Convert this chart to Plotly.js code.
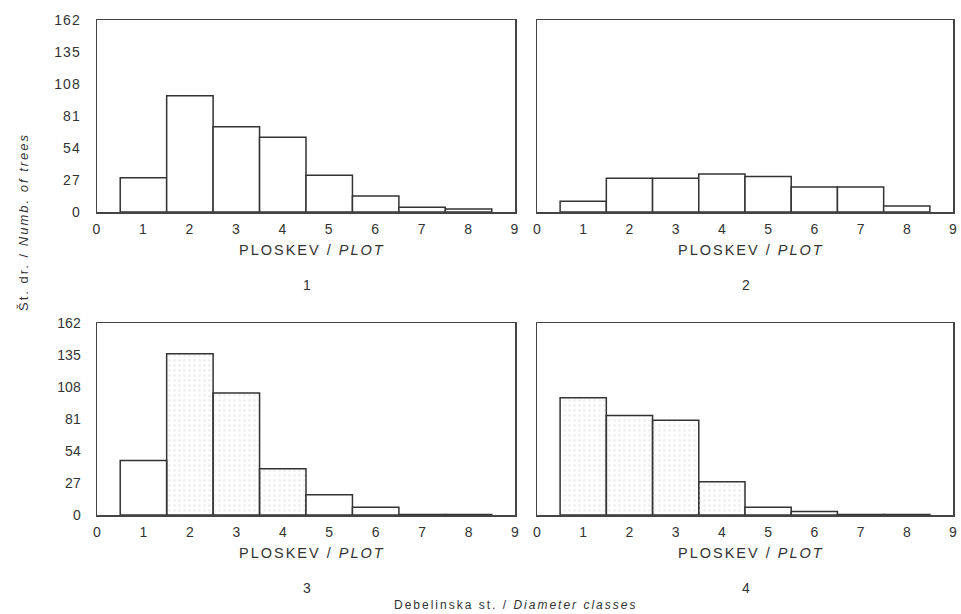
<!DOCTYPE html>
<html><head><meta charset="utf-8">
<script src="https://cdn.plot.ly/plotly-3.0.1.min.js"></script>
<style>html,body{margin:0;padding:0;background:#fff}#chart{width:961px;height:614px}</style>
</head><body><div id="chart"></div>
<script>
const classes = [1, 2, 3, 4, 5, 6, 7, 8];
const plot1 = [29, 98, 72, 63, 31, 13.5, 4, 2.5];
const plot2 = [9, 28.5, 28.5, 32, 30, 21, 21, 5];
const plot3 = [46, 136, 103, 39, 17, 6.5, 0.5, 0.5];
const plot4 = [99, 84, 80, 28, 6.5, 3, 0.5, 0.5];
const shaded3 = [false, true, true, true, false, false, false, false];
const shaded4 = [true, true, true, true, false, false, false, false];
const none = [false, false, false, false, false, false, false, false];
const yTicks = [0, 27, 54, 81, 108, 135, 162];
const xTicks = [0, 1, 2, 3, 4, 5, 6, 7, 8, 9];
const plotNames = ['1', '2', '3', '4'];

const series = [plot1, plot2, plot3, plot4];
const shades = [none, none, shaded3, shaded4];
const traces = series.map((vals, i) => ({
  type: 'bar', x: classes, y: vals, width: 1,
  xaxis: i === 0 ? 'x' : 'x' + (i + 1),
  yaxis: i === 0 ? 'y' : 'y' + (i + 1),
  marker: {
    color: shades[i].map(s => s ? '#eef0ee' : '#ffffff'),
    line: {color: '#333', width: 1.5},
    pattern: {
      shape: shades[i].map(s => s ? '.' : ''),
      fgcolor: '#b4b8b4', bgcolor: '#eef0ee', size: 5, solidity: 0.25
    }
  },
  hoverinfo: 'none', showlegend: false
}));

const W = 961, H = 614;
const colX = [[97, 515], [537, 953]];
const rowY = [[20, 212], [323, 515]];
const tickFont = {family: 'Liberation Sans, Arial, sans-serif', size: 14, color: '#333'};
const layout = {
  width: W, height: H, margin: {l: 0, r: 0, t: 0, b: 0},
  paper_bgcolor: '#fff', plot_bgcolor: '#fff', bargap: 0,
  font: {family: 'Liberation Sans, Arial, sans-serif', color: '#333'},
  annotations: []
};
for (let i = 0; i < 4; i++) {
  const c = colX[i % 2], r = rowY[Math.floor(i / 2)];
  const xa = i === 0 ? 'xaxis' : 'xaxis' + (i + 1);
  const ya = i === 0 ? 'yaxis' : 'yaxis' + (i + 1);
  layout[xa] = {
    domain: [c[0] / W, c[1] / W], range: [0, 9], tickvals: xTicks, ticks: '',
    showline: true, mirror: true, linecolor: '#444', linewidth: 1.5,
    showgrid: false, zeroline: false, tickfont: tickFont, ticklabelstandoff: 4,
    ticklabeloverflow: 'allow',
    anchor: i === 0 ? 'y' : 'y' + (i + 1), fixedrange: true
  };
  layout[ya] = {
    domain: [1 - r[1] / H, 1 - r[0] / H], range: [0, 162], tickvals: yTicks, ticks: '',
    showticklabels: i % 2 === 0,
    showline: true, mirror: true, linecolor: '#444', linewidth: 1.5,
    showgrid: false, zeroline: false, tickfont: tickFont, ticklabelstandoff: 12,
    ticklabeloverflow: 'allow',
    anchor: i === 0 ? 'x' : 'x' + (i + 1), fixedrange: true
  };
  const cx = (c[0] + c[1]) / 2 + 6;
  layout.annotations.push({
    xref: 'paper', yref: 'paper', x: cx / W, y: 1 - (r[1] + 38) / H,
    text: 'PLOSKEV / <i>PLOT</i>', showarrow: false, xanchor: 'center', yanchor: 'middle',
    font: {size: 14.5, color: '#333'}
  });
  layout.annotations.push({
    xref: 'paper', yref: 'paper', x: ((c[0] + c[1]) / 2 + 2) / W, y: 1 - (r[1] + 73) / H,
    text: plotNames[i], showarrow: false, xanchor: 'center', yanchor: 'middle',
    font: {size: 14, color: '#333'}
  });
}
layout.annotations.push({
  xref: 'paper', yref: 'paper', x: 515 / W, y: 1 - 605 / H,
  text: 'Debelinska st. / <i>Diameter classes</i>', showarrow: false,
  xanchor: 'center', yanchor: 'middle', font: {size: 12, color: '#333'}
});
layout.annotations.push({
  xref: 'paper', yref: 'paper', x: 24 / W, y: 1 - 222 / H, textangle: -90,
  text: 'Št. dr. / <i>Numb. of trees</i>', showarrow: false,
  xanchor: 'center', yanchor: 'middle', font: {size: 13, color: '#333'}
});

Plotly.newPlot('chart', traces, layout, {displayModeBar: false, staticPlot: true}).then(() => {
  document.querySelectorAll('.annotation-text').forEach(el => { el.style.letterSpacing = '2px'; });
  document.querySelectorAll('.xtick text, .ytick text').forEach(el => { el.style.letterSpacing = '1px'; });
});
</script></body></html>
